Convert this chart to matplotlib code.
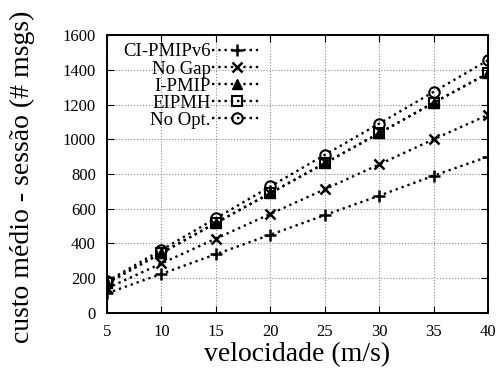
import matplotlib
matplotlib.use("Agg")
import matplotlib.pyplot as plt

velocidade = [5, 10, 15, 20, 25, 30, 35, 40]
ci_pmipv6 = [113, 225, 338, 450, 563, 675, 790, 900]
no_gap = [142, 285, 428, 570, 712, 855, 1000, 1140]
i_pmip = [172, 345, 518, 690, 862, 1035, 1210, 1380]
eipmh = [172, 345, 518, 690, 862, 1035, 1210, 1380]
no_opt = [182, 363, 545, 728, 910, 1090, 1273, 1455]

plt.rcParams["font.family"] = ["Liberation Serif", "DejaVu Serif"]

fig = plt.figure(figsize=(4.98, 3.69), dpi=100)
ax = fig.add_axes([0.215, 0.152, 0.765, 0.753])

series = [
    ("CI-PMIPv6", ci_pmipv6, dict(marker="+", markersize=9, markeredgewidth=1.8)),
    ("No Gap", no_gap, dict(marker="x", markersize=7, markeredgewidth=1.8)),
    ("I-PMIP", i_pmip, dict(marker="^", markersize=7, markerfacecolor="black")),
    ("EIPMH", eipmh, dict(marker="s", markersize=7, markerfacecolor="none", markeredgewidth=1.5)),
    ("No Opt.", no_opt, dict(marker="o", markersize=7.5, markerfacecolor="none", markeredgewidth=1.5)),
]
for name, vals, style in series:
    ax.plot(velocidade, vals, color="black", linestyle=":", linewidth=1.7,
            label=name, **style)

ax.set_xlim(5, 40)
ax.set_ylim(0, 1600)
ax.set_xticks(velocidade)
ax.set_yticks(range(0, 1601, 200))
ax.grid(True, color="#888888", linestyle=":", linewidth=0.8)
ax.tick_params(direction="in", top=True, right=True, labelsize=12, length=5, pad=8)
for s in ax.spines.values():
    s.set_linewidth(1.4)

ax.set_xlabel("velocidade (m/s)", fontsize=20, labelpad=1.5)
ax.set_ylabel("custo médio - sessão (# msgs)", fontsize=20)
ax.yaxis.set_label_coords(-0.19, 0.49)

ax.legend(loc="upper right", bbox_to_anchor=(0.429, 1.004), frameon=False,
          markerfirst=False, fontsize=13.5, handlelength=2.6, handletextpad=0.1,
          labelspacing=0.0, borderpad=0.0)

plt.savefig("out.png", dpi=100)
